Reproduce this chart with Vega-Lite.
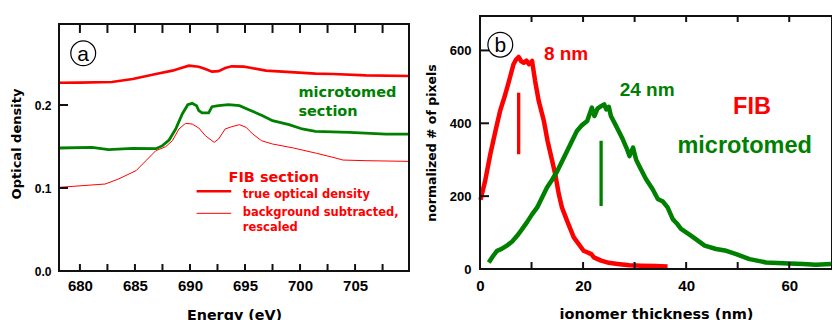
{
  "$schema": "https://vega.github.io/schema/vega-lite/v6.json",
  "background": "white",
  "padding": {"left": 10, "top": 12, "right": 0, "bottom": 0},
  "spacing": 10,
  "config": {
    "view": {"stroke": null},
    "axis": {"domain": false, "ticks": false, "grid": false, "labelColor": "black", "titleColor": "black", "labelFont": "Liberation Sans", "labelFontWeight": "bold", "titleFont": "DejaVu Sans", "titleFontWeight": "bold", "labelOverlap": false, "labelFlush": false},
    "text": {"font": "DejaVu Sans", "fontWeight": "bold"}
  },
  "hconcat": [
    {
      "width": 350,
      "height": 255,
      "layer": [
        {
          "data": {"values": [
            {"energy": 678.1, "od": 0.2269}, {"energy": 680, "od": 0.227}, {"energy": 682.9, "od": 0.2277},
            {"energy": 684.8, "od": 0.2313}, {"energy": 686.9, "od": 0.2373}, {"energy": 688.4, "od": 0.2414},
            {"energy": 689.2, "od": 0.2446}, {"energy": 689.9, "od": 0.2474}, {"energy": 690.8, "od": 0.2462},
            {"energy": 691.4, "od": 0.2434}, {"energy": 692.0, "od": 0.2402}, {"energy": 692.6, "od": 0.2408},
            {"energy": 693.2, "od": 0.2446}, {"energy": 693.8, "od": 0.2466}, {"energy": 694.9, "od": 0.2462},
            {"energy": 695.6, "od": 0.2446}, {"energy": 696.9, "od": 0.2414}, {"energy": 698.4, "od": 0.2402},
            {"energy": 699.9, "od": 0.239}, {"energy": 701.4, "od": 0.2378}, {"energy": 703.0, "od": 0.2373},
            {"energy": 706.0, "od": 0.2357}, {"energy": 709.9, "od": 0.2349}
          ]},
          "mark": {"type": "line", "color": "#ff0000", "strokeWidth": 2.6},
          "encoding": {
            "x": {"field": "energy", "type": "quantitative", "scale": {"domain": [678.1, 709.9], "nice": false, "zero": false},
              "axis": {"orient": "bottom", "values": [680, 685, 690, 695, 700, 705], "format": "d", "labelPadding": 7, "labelFontSize": 15,
                "title": "Energy (eV)", "titleFontSize": 14.3, "titlePadding": 15}},
            "y": {"field": "od", "type": "quantitative", "scale": {"domain": [0, 0.30724], "nice": false},
              "axis": {"orient": "left", "values": [0, 0.1, 0.2], "format": ".1f", "labelPadding": 8, "labelFontSize": 12,
                "title": "Optical density", "titleFontSize": 13, "titlePadding": 11}}
          }
        },
        {
          "data": {"values": [
            {"energy": 678.1, "od": 0.1482}, {"energy": 681.1, "od": 0.149}, {"energy": 682.6, "od": 0.1462},
            {"energy": 684.8, "od": 0.1478}, {"energy": 686.9, "od": 0.1474}, {"energy": 687.5, "od": 0.151},
            {"energy": 688.1, "od": 0.1578}, {"energy": 688.7, "od": 0.1711}, {"energy": 689.3, "od": 0.1892},
            {"energy": 689.8, "od": 0.2004}, {"energy": 690.2, "od": 0.202}, {"energy": 690.6, "od": 0.1992},
            {"energy": 690.8, "od": 0.1932}, {"energy": 691.1, "od": 0.1904}, {"energy": 691.7, "od": 0.1904},
            {"energy": 692.0, "od": 0.198}, {"energy": 692.6, "od": 0.1992}, {"energy": 693.5, "od": 0.2004},
            {"energy": 694.5, "od": 0.1992}, {"energy": 695.4, "od": 0.194}, {"energy": 696.6, "od": 0.1871},
            {"energy": 697.5, "od": 0.1811}, {"energy": 699.0, "od": 0.1763}, {"energy": 700.2, "od": 0.1711},
            {"energy": 701.4, "od": 0.1683}, {"energy": 704.5, "od": 0.1671}, {"energy": 707.8, "od": 0.165},
            {"energy": 709.9, "od": 0.165}
          ]},
          "mark": {"type": "line", "color": "#008000", "strokeWidth": 2.8},
          "encoding": {
            "x": {"field": "energy", "type": "quantitative"},
            "y": {"field": "od", "type": "quantitative"}
          }
        },
        {
          "data": {"values": [
            {"energy": 678.1, "od": 0.1008}, {"energy": 680.2, "od": 0.1028}, {"energy": 682.3, "od": 0.1048},
            {"energy": 683.5, "od": 0.1108}, {"energy": 685.1, "od": 0.1209}, {"energy": 686.0, "od": 0.1329},
            {"energy": 686.9, "od": 0.145}, {"energy": 687.8, "od": 0.1498}, {"energy": 688.4, "od": 0.157},
            {"energy": 689.0, "od": 0.1711}, {"energy": 689.6, "od": 0.1779}, {"energy": 690.2, "od": 0.1771},
            {"energy": 690.8, "od": 0.1723}, {"energy": 691.4, "od": 0.163}, {"energy": 692.2, "od": 0.155},
            {"energy": 692.6, "od": 0.159}, {"energy": 693.2, "od": 0.1711}, {"energy": 693.8, "od": 0.1739},
            {"energy": 694.5, "od": 0.1763}, {"energy": 695.1, "od": 0.1731}, {"energy": 695.7, "od": 0.1651},
            {"energy": 696.5, "od": 0.157}, {"energy": 697.5, "od": 0.153}, {"energy": 699.4, "od": 0.1482},
            {"energy": 701.5, "od": 0.1418}, {"energy": 703.0, "od": 0.1369}, {"energy": 703.9, "od": 0.1337},
            {"energy": 706.0, "od": 0.1329}, {"energy": 709.9, "od": 0.1321}
          ]},
          "mark": {"type": "line", "color": "#ff0000", "strokeWidth": 1},
          "encoding": {
            "x": {"field": "energy", "type": "quantitative"},
            "y": {"field": "od", "type": "quantitative"}
          }
        },
        {
          "data": {"values": [
            {"fx": 678.1, "fy": 0, "k": 1}, {"fx": 709.9, "fy": 0, "k": 2}, {"fx": 709.9, "fy": 0.2976, "k": 3},
            {"fx": 678.1, "fy": 0.2976, "k": 4}, {"fx": 678.1, "fy": 0, "k": 5}
          ]},
          "mark": {"type": "line", "color": "#111111", "strokeWidth": 2, "strokeCap": "square"},
          "encoding": {
            "x": {"field": "fx", "type": "quantitative"},
            "y": {"field": "fy", "type": "quantitative"},
            "order": {"field": "k", "type": "quantitative"}
          }
        },
        {
          "data": {"values": [
            {"id": "b1", "fx": 680, "fy": 0}, {"id": "b1", "fx": 680, "fy": 0.0084},
            {"id": "b2", "fx": 682.5, "fy": 0}, {"id": "b2", "fx": 682.5, "fy": 0.0084},
            {"id": "b3", "fx": 685, "fy": 0}, {"id": "b3", "fx": 685, "fy": 0.0084},
            {"id": "b4", "fx": 687.5, "fy": 0}, {"id": "b4", "fx": 687.5, "fy": 0.0084},
            {"id": "b5", "fx": 690, "fy": 0}, {"id": "b5", "fx": 690, "fy": 0.0084},
            {"id": "b6", "fx": 692.5, "fy": 0}, {"id": "b6", "fx": 692.5, "fy": 0.0084},
            {"id": "b7", "fx": 695, "fy": 0}, {"id": "b7", "fx": 695, "fy": 0.0084},
            {"id": "b8", "fx": 697.5, "fy": 0}, {"id": "b8", "fx": 697.5, "fy": 0.0084},
            {"id": "b9", "fx": 700, "fy": 0}, {"id": "b9", "fx": 700, "fy": 0.0084},
            {"id": "b10", "fx": 702.5, "fy": 0}, {"id": "b10", "fx": 702.5, "fy": 0.0084},
            {"id": "b11", "fx": 705, "fy": 0}, {"id": "b11", "fx": 705, "fy": 0.0084},
            {"id": "b12", "fx": 707.5, "fy": 0}, {"id": "b12", "fx": 707.5, "fy": 0.0084},
            {"id": "t1", "fx": 680, "fy": 0.2976}, {"id": "t1", "fx": 680, "fy": 0.2868},
            {"id": "t2", "fx": 682.5, "fy": 0.2976}, {"id": "t2", "fx": 682.5, "fy": 0.2868},
            {"id": "t3", "fx": 685, "fy": 0.2976}, {"id": "t3", "fx": 685, "fy": 0.2868},
            {"id": "t4", "fx": 687.5, "fy": 0.2976}, {"id": "t4", "fx": 687.5, "fy": 0.2868},
            {"id": "t5", "fx": 690, "fy": 0.2976}, {"id": "t5", "fx": 690, "fy": 0.2868},
            {"id": "t6", "fx": 692.5, "fy": 0.2976}, {"id": "t6", "fx": 692.5, "fy": 0.2868},
            {"id": "t7", "fx": 695, "fy": 0.2976}, {"id": "t7", "fx": 695, "fy": 0.2868},
            {"id": "t8", "fx": 697.5, "fy": 0.2976}, {"id": "t8", "fx": 697.5, "fy": 0.2868},
            {"id": "t9", "fx": 700, "fy": 0.2976}, {"id": "t9", "fx": 700, "fy": 0.2868},
            {"id": "t10", "fx": 702.5, "fy": 0.2976}, {"id": "t10", "fx": 702.5, "fy": 0.2868},
            {"id": "t11", "fx": 705, "fy": 0.2976}, {"id": "t11", "fx": 705, "fy": 0.2868},
            {"id": "t12", "fx": 707.5, "fy": 0.2976}, {"id": "t12", "fx": 707.5, "fy": 0.2868},
            {"id": "l1", "fx": 678.1, "fy": 0.1}, {"id": "l1", "fx": 678.92, "fy": 0.1},
            {"id": "l2", "fx": 678.1, "fy": 0.2}, {"id": "l2", "fx": 678.92, "fy": 0.2}
          ]},
          "mark": {"type": "line", "color": "#111111", "strokeWidth": 2},
          "encoding": {
            "x": {"field": "fx", "type": "quantitative"},
            "y": {"field": "fy", "type": "quantitative"},
            "detail": {"field": "id"}
          }
        },
        {
          "data": {"values": [{"energy": 690.6, "od": 0.096}, {"energy": 693.75, "od": 0.096}]},
          "mark": {"type": "line", "color": "#ff0000", "strokeWidth": 2.6},
          "encoding": {
            "x": {"field": "energy", "type": "quantitative"},
            "y": {"field": "od", "type": "quantitative"}
          }
        },
        {
          "data": {"values": [{"energy": 690.6, "od": 0.0695}, {"energy": 693.75, "od": 0.0695}]},
          "mark": {"type": "line", "color": "#ff0000", "strokeWidth": 1},
          "encoding": {
            "x": {"field": "energy", "type": "quantitative"},
            "y": {"field": "od", "type": "quantitative"}
          }
        },
        {
          "data": {"values": [
            {"energy": 699.85, "od": 0.21, "label": "microtomed"},
            {"energy": 699.85, "od": 0.1871, "label": "section"}
          ]},
          "mark": {"type": "text", "color": "#008000", "fontSize": 14.5, "align": "left", "baseline": "alphabetic"},
          "encoding": {
            "x": {"field": "energy", "type": "quantitative"},
            "y": {"field": "od", "type": "quantitative"},
            "text": {"field": "label"}
          }
        },
        {
          "data": {"values": [{"energy": 693.5, "od": 0.1069, "label": "FIB section"}]},
          "mark": {"type": "text", "color": "#ff0000", "fontSize": 14.5, "align": "left", "baseline": "alphabetic"},
          "encoding": {
            "x": {"field": "energy", "type": "quantitative"},
            "y": {"field": "od", "type": "quantitative"},
            "text": {"field": "label"}
          }
        },
        {
          "data": {"values": [
            {"energy": 694.8, "od": 0.088, "label": "true optical density"},
            {"energy": 694.8, "od": 0.0663, "label": "background subtracted,"},
            {"energy": 694.8, "od": 0.0478, "label": "rescaled"}
          ]},
          "mark": {"type": "text", "color": "#ff0000", "fontSize": 11.5, "align": "left", "baseline": "alphabetic"},
          "encoding": {
            "x": {"field": "energy", "type": "quantitative"},
            "y": {"field": "od", "type": "quantitative"},
            "text": {"field": "label"}
          }
        },
        {
          "data": {"values": [{"energy": 680.3, "od": 0.2623}]},
          "mark": {"type": "point", "shape": "circle", "size": 616, "stroke": "black", "strokeWidth": 1.2, "filled": false, "opacity": 1},
          "encoding": {
            "x": {"field": "energy", "type": "quantitative"},
            "y": {"field": "od", "type": "quantitative"}
          }
        },
        {
          "data": {"values": [{"energy": 680.3, "od": 0.2534, "label": "a"}]},
          "mark": {"type": "text", "color": "black", "font": "Liberation Sans", "fontWeight": "normal", "fontSize": 21, "align": "center", "baseline": "alphabetic"},
          "encoding": {
            "x": {"field": "energy", "type": "quantitative"},
            "y": {"field": "od", "type": "quantitative"},
            "text": {"field": "label"}
          }
        }
      ]
    },
    {
      "width": 352,
      "height": 253,
      "layer": [
        {
          "data": {"values": [
            {"t": 0.1, "n": 190}, {"t": 1.0, "n": 242}, {"t": 2.0, "n": 315}, {"t": 3.0, "n": 379}, {"t": 3.9, "n": 434},
            {"t": 4.9, "n": 479}, {"t": 5.8, "n": 525}, {"t": 6.5, "n": 562}, {"t": 7.0, "n": 575}, {"t": 7.5, "n": 582},
            {"t": 8.0, "n": 570}, {"t": 8.5, "n": 566}, {"t": 9.0, "n": 572}, {"t": 9.5, "n": 562}, {"t": 10.1, "n": 571},
            {"t": 10.7, "n": 516}, {"t": 11.4, "n": 461}, {"t": 12.4, "n": 406}, {"t": 13.1, "n": 352}, {"t": 14.0, "n": 297},
            {"t": 14.6, "n": 260}, {"t": 15.3, "n": 205}, {"t": 15.9, "n": 169}, {"t": 16.9, "n": 132}, {"t": 18.2, "n": 87},
            {"t": 20.1, "n": 50}, {"t": 21.6, "n": 41}, {"t": 22.1, "n": 32}, {"t": 23.5, "n": 23}, {"t": 25.0, "n": 17},
            {"t": 26.7, "n": 14}, {"t": 29.0, "n": 10}, {"t": 31.3, "n": 9}, {"t": 34.0, "n": 8}, {"t": 36.4, "n": 7}
          ]},
          "mark": {"type": "line", "color": "#ff0000", "strokeWidth": 4.5, "strokeJoin": "round"},
          "encoding": {
            "x": {"field": "t", "type": "quantitative", "scale": {"domain": [0, 68.3], "nice": false, "zero": false},
              "axis": {"orient": "bottom", "values": [0, 20, 40, 60], "format": "d", "labelPadding": 9, "labelFontSize": 15,
                "title": "ionomer thickness (nm)", "titleFontSize": 14.5, "titlePadding": 14}},
            "y": {"field": "n", "type": "quantitative", "scale": {"domain": [0, 694.5], "nice": false},
              "axis": {"orient": "left", "values": [0, 200, 400, 600], "format": "d", "labelPadding": 9, "labelFontSize": 13,
                "title": "normalized # of pixels", "titleFontSize": 12.5, "titlePadding": 11}}
          }
        },
        {
          "data": {"values": [
            {"t": 1.7, "n": 18}, {"t": 2.5, "n": 35}, {"t": 3.3, "n": 50}, {"t": 4.2, "n": 55}, {"t": 5.2, "n": 64},
            {"t": 6.2, "n": 75}, {"t": 7.2, "n": 91}, {"t": 8.1, "n": 108}, {"t": 9.1, "n": 128}, {"t": 10.1, "n": 150},
            {"t": 11.1, "n": 169}, {"t": 12.0, "n": 195}, {"t": 13.0, "n": 224}, {"t": 14.0, "n": 245}, {"t": 15.0, "n": 269},
            {"t": 16.0, "n": 298}, {"t": 16.9, "n": 324}, {"t": 17.8, "n": 350}, {"t": 18.8, "n": 379}, {"t": 19.8, "n": 395},
            {"t": 20.8, "n": 406}, {"t": 21.7, "n": 443}, {"t": 22.2, "n": 420}, {"t": 22.8, "n": 440}, {"t": 23.5, "n": 447},
            {"t": 24.1, "n": 452}, {"t": 24.5, "n": 438}, {"t": 25.0, "n": 445}, {"t": 25.4, "n": 420}, {"t": 26.4, "n": 393},
            {"t": 27.7, "n": 356}, {"t": 28.5, "n": 330}, {"t": 29.0, "n": 310}, {"t": 29.7, "n": 333}, {"t": 30.3, "n": 300},
            {"t": 30.9, "n": 283}, {"t": 32.2, "n": 247}, {"t": 33.5, "n": 219}, {"t": 34.5, "n": 192}, {"t": 35.5, "n": 185},
            {"t": 36.4, "n": 169}, {"t": 37.4, "n": 137}, {"t": 38.2, "n": 125}, {"t": 39.0, "n": 110}, {"t": 41.0, "n": 91},
            {"t": 43.6, "n": 64}, {"t": 45.8, "n": 55}, {"t": 47.8, "n": 50}, {"t": 49.7, "n": 41}, {"t": 52.3, "n": 27},
            {"t": 55.5, "n": 18}, {"t": 58.8, "n": 16}, {"t": 62.7, "n": 14}, {"t": 65.2, "n": 12}, {"t": 68.1, "n": 14}
          ]},
          "mark": {"type": "line", "color": "#008000", "strokeWidth": 4.5, "strokeJoin": "round"},
          "encoding": {
            "x": {"field": "t", "type": "quantitative"},
            "y": {"field": "n", "type": "quantitative"}
          }
        },
        {
          "data": {"values": [
            {"fx": 0, "fy": 0, "k": 1}, {"fx": 68.3, "fy": 0, "k": 2}, {"fx": 68.3, "fy": 694.5, "k": 3},
            {"fx": 0, "fy": 694.5, "k": 4}, {"fx": 0, "fy": 0, "k": 5}
          ]},
          "mark": {"type": "line", "color": "#111111", "strokeWidth": 2, "strokeCap": "square"},
          "encoding": {
            "x": {"field": "fx", "type": "quantitative"},
            "y": {"field": "fy", "type": "quantitative"},
            "order": {"field": "k", "type": "quantitative"}
          }
        },
        {
          "data": {"values": [
            {"id": "b1", "fx": 10, "fy": 0}, {"id": "b1", "fx": 10, "fy": 19.2},
            {"id": "b2", "fx": 20, "fy": 0}, {"id": "b2", "fx": 20, "fy": 19.2},
            {"id": "b3", "fx": 30, "fy": 0}, {"id": "b3", "fx": 30, "fy": 19.2},
            {"id": "b4", "fx": 40, "fy": 0}, {"id": "b4", "fx": 40, "fy": 19.2},
            {"id": "b5", "fx": 50, "fy": 0}, {"id": "b5", "fx": 50, "fy": 19.2},
            {"id": "b6", "fx": 60, "fy": 0}, {"id": "b6", "fx": 60, "fy": 19.2},
            {"id": "t1", "fx": 10, "fy": 694.5}, {"id": "t1", "fx": 10, "fy": 678},
            {"id": "t2", "fx": 20, "fy": 694.5}, {"id": "t2", "fx": 20, "fy": 678},
            {"id": "t3", "fx": 30, "fy": 694.5}, {"id": "t3", "fx": 30, "fy": 678},
            {"id": "t4", "fx": 40, "fy": 694.5}, {"id": "t4", "fx": 40, "fy": 678},
            {"id": "t5", "fx": 50, "fy": 694.5}, {"id": "t5", "fx": 50, "fy": 678},
            {"id": "t6", "fx": 60, "fy": 694.5}, {"id": "t6", "fx": 60, "fy": 678},
            {"id": "l1", "fx": 0, "fy": 200}, {"id": "l1", "fx": 1.75, "fy": 200},
            {"id": "l2", "fx": 0, "fy": 400}, {"id": "l2", "fx": 1.75, "fy": 400},
            {"id": "l3", "fx": 0, "fy": 600}, {"id": "l3", "fx": 1.75, "fy": 600}
          ]},
          "mark": {"type": "line", "color": "#111111", "strokeWidth": 2},
          "encoding": {
            "x": {"field": "fx", "type": "quantitative"},
            "y": {"field": "fy", "type": "quantitative"},
            "detail": {"field": "id"}
          }
        },
        {
          "data": {"values": [{"t": 7.5, "n": 315, "n2": 484}]},
          "mark": {"type": "rule", "color": "#ff0000", "strokeWidth": 3.3},
          "encoding": {
            "x": {"field": "t", "type": "quantitative"},
            "y": {"field": "n", "type": "quantitative"},
            "y2": {"field": "n2"}
          }
        },
        {
          "data": {"values": [{"t": 23.5, "n": 173, "n2": 352}]},
          "mark": {"type": "rule", "color": "#008000", "strokeWidth": 3.3},
          "encoding": {
            "x": {"field": "t", "type": "quantitative"},
            "y": {"field": "n", "type": "quantitative"},
            "y2": {"field": "n2"}
          }
        },
        {
          "data": {"values": [{"t": 12.4, "n": 572.6, "label": "8 nm"}]},
          "mark": {"type": "text", "color": "#ff0000", "font": "Liberation Sans", "fontSize": 19, "align": "left", "baseline": "alphabetic"},
          "encoding": {
            "x": {"field": "t", "type": "quantitative"},
            "y": {"field": "n", "type": "quantitative"},
            "text": {"field": "label"}
          }
        },
        {
          "data": {"values": [{"t": 27.1, "n": 474, "label": "24 nm"}]},
          "mark": {"type": "text", "color": "#008000", "font": "Liberation Sans", "fontSize": 19, "align": "left", "baseline": "alphabetic"},
          "encoding": {
            "x": {"field": "t", "type": "quantitative"},
            "y": {"field": "n", "type": "quantitative"},
            "text": {"field": "label"}
          }
        },
        {
          "data": {"values": [{"t": 49.1, "n": 424.7, "label": "FIB"}]},
          "mark": {"type": "text", "color": "#ff0000", "font": "Liberation Sans", "fontSize": 23.5, "align": "left", "baseline": "alphabetic"},
          "encoding": {
            "x": {"field": "t", "type": "quantitative"},
            "y": {"field": "n", "type": "quantitative"},
            "text": {"field": "label"}
          }
        },
        {
          "data": {"values": [{"t": 38.3, "n": 319.7, "label": "microtomed"}]},
          "mark": {"type": "text", "color": "#008000", "font": "Liberation Sans", "fontSize": 23.5, "align": "left", "baseline": "alphabetic"},
          "encoding": {
            "x": {"field": "t", "type": "quantitative"},
            "y": {"field": "n", "type": "quantitative"},
            "text": {"field": "label"}
          }
        },
        {
          "data": {"values": [{"t": 3.94, "n": 615.7}]},
          "mark": {"type": "point", "shape": "circle", "size": 616, "stroke": "black", "strokeWidth": 1.2, "filled": false, "opacity": 1},
          "encoding": {
            "x": {"field": "t", "type": "quantitative"},
            "y": {"field": "n", "type": "quantitative"}
          }
        },
        {
          "data": {"values": [{"t": 3.94, "n": 594.8, "label": "b"}]},
          "mark": {"type": "text", "color": "black", "font": "Liberation Sans", "fontWeight": "normal", "fontSize": 21, "align": "center", "baseline": "alphabetic"},
          "encoding": {
            "x": {"field": "t", "type": "quantitative"},
            "y": {"field": "n", "type": "quantitative"},
            "text": {"field": "label"}
          }
        }
      ]
    }
  ]
}
